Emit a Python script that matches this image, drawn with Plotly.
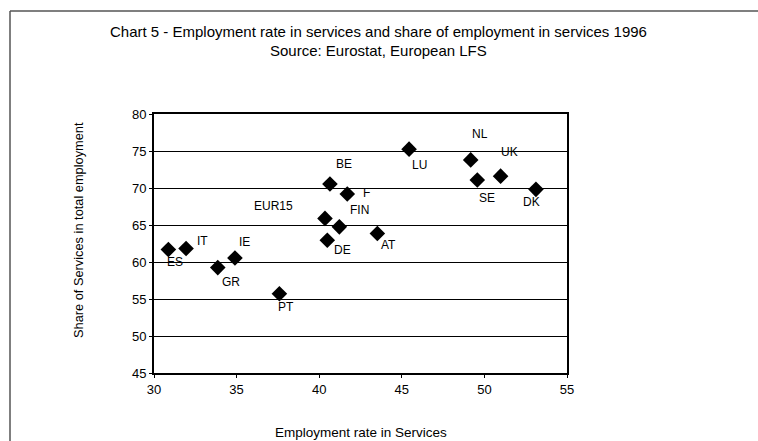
import plotly.graph_objects as go

# Employment rate in services (%) and share of services in total employment (%), 1996
countries = ["ES", "IT", "GR", "IE", "PT", "BE", "EUR15", "F", "FIN", "DE", "AT",
             "LU", "NL", "SE", "UK", "DK"]
emp_rate = [30.87, 31.94, 33.86, 34.90, 37.59, 40.65, 40.35, 41.70, 41.22, 40.49, 43.52,
            45.44, 49.17, 49.57, 50.98, 53.12]
services_share = [61.68, 61.82, 59.24, 60.54, 55.71, 70.54, 65.89, 69.19, 64.75, 62.94, 63.85,
                  75.25, 73.80, 71.09, 71.60, 69.82]

# label offsets (pixels) from each marker
label_dx = [7, 16, 13, 10, 7, 14, -51, 19, 20, 15, 11, 10, 9, 10, 9, -4]
label_dy = [12, -8, 14, -16, 13, -20, -12, -1, -17, 10, 11, 16, -26, 18, -24, 13]

x_ticks = [30, 35, 40, 45, 50, 55]
y_ticks = [45, 50, 55, 60, 65, 70, 75, 80]

FONT = "Liberation Sans, Arial, sans-serif"

fig = go.Figure()
fig.add_trace(go.Scatter(
    x=emp_rate, y=services_share, mode="markers",
    marker=dict(symbol="diamond", size=12, color="black"),
    hoverinfo="text", text=countries, showlegend=False,
))

for c, x, y, dx, dy in zip(countries, emp_rate, services_share, label_dx, label_dy):
    fig.add_annotation(x=x, y=y, text=c, showarrow=False,
                       xshift=dx, yshift=-dy,
                       font=dict(family=FONT, size=12, color="black"))

fig.update_layout(
    width=758, height=441,
    margin=dict(l=154, r=191, t=114, b=68),
    paper_bgcolor="white", plot_bgcolor="white",
    font=dict(family=FONT, color="black"),
    xaxis=dict(range=[30, 55], tickvals=x_ticks, ticks="outside", ticklen=3,
               tickcolor="black", showgrid=False, zeroline=False,
               showline=True, linecolor="black", linewidth=2, mirror=True,
               tickfont=dict(size=13), fixedrange=True),
    yaxis=dict(range=[45, 80], tickvals=y_ticks, ticks="outside", ticklen=3,
               tickcolor="black", showgrid=True, gridcolor="black", gridwidth=1,
               zeroline=False, showline=True, linecolor="black", linewidth=2,
               mirror=True, tickfont=dict(size=13), fixedrange=True),
)


def paper_x(px):
    return (px - 154) / 413


def paper_y(py):
    return (373 - py) / 259


# titles
fig.add_annotation(xref="paper", yref="paper", x=paper_x(378), y=paper_y(31),
                   xanchor="center", yanchor="middle",
                   text="Chart 5 - Employment rate in services and share of employment in services 1996",
                   showarrow=False, font=dict(size=15, family=FONT))
fig.add_annotation(xref="paper", yref="paper", x=paper_x(378), y=paper_y(50),
                   xanchor="center", yanchor="middle",
                   text="Source: Eurostat, European LFS",
                   showarrow=False, font=dict(size=15, family=FONT))
fig.add_annotation(xref="paper", yref="paper", x=0.5, y=paper_y(432),
                   xanchor="center", yanchor="middle",
                   text="Employment rate in Services",
                   showarrow=False, font=dict(size=13.5, family=FONT))
fig.add_annotation(xref="paper", yref="paper", x=paper_x(78), y=paper_y(230),
                   xanchor="center", yanchor="middle",
                   text="Share of Services in total employment", textangle=-90,
                   showarrow=False, font=dict(size=12.8, family=FONT))

# outer frame (top and left edges)
fig.add_shape(type="line", xref="paper", yref="paper",
              x0=paper_x(10), x1=paper_x(758), y0=paper_y(11), y1=paper_y(11),
              line=dict(color="#555555", width=1.5))
fig.add_shape(type="line", xref="paper", yref="paper",
              x0=paper_x(10), x1=paper_x(10), y0=paper_y(11), y1=paper_y(441),
              line=dict(color="#555555", width=1.5))

fig.write_html("out.html")
